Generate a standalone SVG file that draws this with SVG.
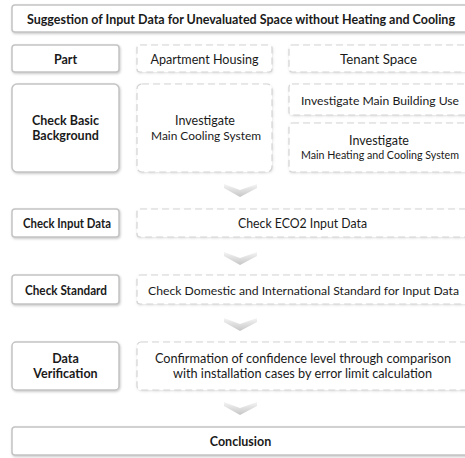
<svg xmlns="http://www.w3.org/2000/svg" width="465" height="458" viewBox="0 0 465 458">
<style>
.solid{fill:#fff;stroke:#c4c4c4;stroke-width:1.5;filter:url(#sh)}
.dash{fill:#fff;stroke:#d4d4d4;stroke-width:1.2;stroke-dasharray:7 4;filter:url(#sh2)}
text{font-family:Lato,"Open Sans","DejaVu Sans",sans-serif;fill:#1a1a1a;text-anchor:middle;dominant-baseline:central;font-size:12.5px}
.b{font-weight:700}
.s{font-size:11.5px}
.xs{font-size:10.6px}
.chev{fill:url(#cg)}
</style>
<defs>
<filter id="sh" x="-10%" y="-20%" width="120%" height="150%">
<feDropShadow dx="0.8" dy="1.2" stdDeviation="1" flood-color="#888" flood-opacity="0.45"/>
</filter>
<filter id="sh2" x="-10%" y="-20%" width="120%" height="150%">
<feDropShadow dx="0.5" dy="1" stdDeviation="0.8" flood-color="#999" flood-opacity="0.3"/>
</filter>
<linearGradient id="cg" x1="0" y1="0" x2="0" y2="1">
<stop offset="0" stop-color="#f5f5f5"/>
<stop offset="1" stop-color="#c6c6c6"/>
</linearGradient>
</defs>

<g id="title"><rect class="solid" x="12" y="5" width="460" height="27" rx="3"/><text class="b" x="241" y="19" textLength="428" lengthAdjust="spacingAndGlyphs">Suggestion of Input Data for Unevaluated Space without Heating and Cooling</text></g>

<g id="part"><rect class="solid" x="12" y="45" width="107" height="27" rx="3"/><text class="b" x="65.5" y="59">Part</text></g>
<g id="apartment"><rect class="dash" x="137" y="45" width="135" height="27" rx="3"/><text x="204.5" y="59" textLength="108" lengthAdjust="spacingAndGlyphs">Apartment Housing</text></g>
<g id="tenant"><rect class="dash" x="289" y="45" width="180" height="27" rx="3"/><text x="378.5" y="59" textLength="77" lengthAdjust="spacingAndGlyphs">Tenant Space</text></g>

<g id="basic"><rect class="solid" x="12" y="84" width="107" height="88" rx="5"/><text class="b" x="65.5" y="120.5">Check Basic</text><text class="b" x="65.5" y="135.5">Background</text></g>
<g id="cooling"><rect class="dash" x="137" y="84" width="135" height="88" rx="5"/><text x="205" y="120.5">Investigate</text><text class="s" x="206" y="135.5" textLength="110" lengthAdjust="spacingAndGlyphs">Main Cooling System</text></g>
<g id="building-use"><rect class="dash" x="289" y="84" width="180" height="31" rx="3"/><text class="s" x="380" y="100" textLength="158" lengthAdjust="spacingAndGlyphs">Investigate Main Building Use</text></g>
<g id="heating-cooling"><rect class="dash" x="289" y="123" width="180" height="49" rx="3"/><text x="379" y="140">Investigate</text><text class="xs" x="380" y="155" textLength="158" lengthAdjust="spacingAndGlyphs">Main Heating and Cooling System</text></g>

<g id="input-label"><rect class="solid" x="12" y="209" width="107" height="28" rx="3"/><text class="b" x="67" y="223" textLength="88" lengthAdjust="spacingAndGlyphs">Check Input Data</text></g>
<g id="eco2"><rect class="dash" x="137" y="209" width="332" height="28" rx="3"/><text x="302.5" y="223" textLength="129" lengthAdjust="spacingAndGlyphs">Check ECO2 Input Data</text></g>

<g id="standard-label"><rect class="solid" x="12" y="275" width="107" height="29" rx="3"/><text class="b" x="66" y="290" textLength="82" lengthAdjust="spacingAndGlyphs">Check Standard</text></g>
<g id="standard"><rect class="dash" x="137" y="275" width="332" height="29" rx="3"/><text class="s" x="303.5" y="290" textLength="311" lengthAdjust="spacingAndGlyphs">Check Domestic and International Standard for Input Data</text></g>

<g id="verification-label"><rect class="solid" x="12" y="342" width="107" height="48" rx="4"/><text class="b" x="65.5" y="358.5">Data</text><text class="b" x="65.5" y="373.5">Verification</text></g>
<g id="verification"><rect class="dash" x="137" y="342" width="332" height="48" rx="4"/><text x="303" y="358.5" textLength="296" lengthAdjust="spacingAndGlyphs">Confirmation of confidence level through comparison</text><text x="302.5" y="373.5" textLength="259" lengthAdjust="spacingAndGlyphs">with installation cases by error limit calculation</text></g>

<g id="conclusion"><rect class="solid" x="12" y="427" width="460" height="28" rx="3"/><text class="b" x="240.5" y="441">Conclusion</text></g>

<g id="connectors">
<polygon class="chev" points="224,184 240,190 257,184 257,188 240,197 224,188"/>
<polygon class="chev" points="224,252 240,258 257,252 257,256 240,265 224,256"/>
<polygon class="chev" points="224,318 240,324 257,318 257,322 240,331 224,322"/>
<polygon class="chev" points="224,402 240,408 257,402 257,406 240,415 224,406"/>
</g>
</svg>
